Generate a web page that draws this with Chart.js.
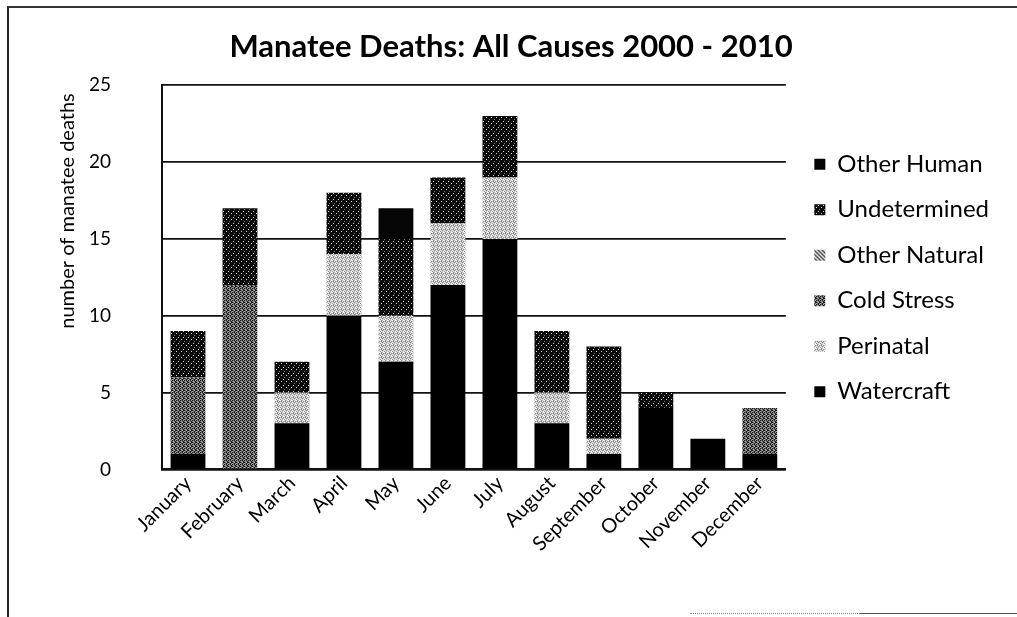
<!DOCTYPE html>
<html>
<head>
<meta charset="utf-8">
<script src="https://cdn.jsdelivr.net/npm/chart.js@4.4.1/dist/chart.umd.min.js"></script>
<style>
  html, body { margin: 0; padding: 0; background: #fff; }
  #wrap { position: relative; width: 1017px; height: 617px; overflow: hidden; }
  #frame { position: absolute; left: 7px; top: 6px; width: 1020px; height: 620px;
           border-left: 2px solid #222; border-top: 2px solid #333; box-sizing: border-box; pointer-events: none; }
  #bottomline { position: absolute; left: 690px; top: 613px; width: 330px; height: 0;
           border-top: 1px dotted #888; }
  #bottomline2 { position: absolute; left: 860px; top: 613px; width: 160px; height: 0;
           border-top: 1px solid #555; }
  canvas { position: absolute; left: 0; top: 0; }
</style>
</head>
<body>
<div id="wrap">
  <canvas id="c" width="1017" height="617"></canvas>
  <div id="frame"></div>
  <div id="bottomline"></div>
  <div id="bottomline2"></div>
</div>
<script>
// ---- data ----
const months = ["January","February","March","April","May","June","July","August","September","October","November","December"];
const watercraft   = [1, 0, 3, 10, 7, 12, 15, 3, 1, 4, 2, 1];
const perinatal    = [0, 0, 2, 4, 3, 4, 4, 2, 1, 0, 0, 0];
const coldStress   = [5, 12, 0, 0, 0, 0, 0, 0, 0, 0, 0, 3];
const otherNatural = [0, 0, 0, 0, 0, 0, 0, 0, 0, 0, 0, 0];
const undetermined = [3, 5, 2, 4, 5, 3, 4, 4, 6, 1, 0, 0];
const otherHuman   = [0, 0, 0, 0, 2, 0, 0, 0, 0, 0, 0, 0];
const yTicks = [0, 5, 10, 15, 20, 25];

// ---- dither patterns to mimic the scanned greyscale fills ----
function makePattern(rows, colors) {
  const h = rows.length, w = rows[0].length;
  const cv = document.createElement('canvas');
  cv.width = w; cv.height = h;
  const cx = cv.getContext('2d');
  for (let y = 0; y < h; y++) {
    for (let x = 0; x < w; x++) {
      cx.fillStyle = colors[rows[y][x]];
      cx.fillRect(x, y, 1, 1);
    }
  }
  return cx.createPattern(cv, 'repeat');
}
const patPerinatal = makePattern([
  "0120","2101","0212","1020"
], {"0":"#f0f0f0","1":"#8a8a8a","2":"#c0c0c0"});
const patCold = makePattern([
  "0102","1210","0120","2101"
], {"0":"#1a1a1a","1":"#6e6e6e","2":"#a8a8a8"});
const patOtherNat = makePattern([
  "0121","1012","2101","1210"
], {"0":"#555","1":"#999","2":"#ddd"});
const patUndet = makePattern([
  "00000","00010","00000","01000","00000","00002"
], {"0":"#0a0a0a","1":"#d8d8d8","2":"#777"});

const FONT = "Lato, 'Open Sans', sans-serif";

const yTitlePlugin = {
  id: 'yTitle',
  afterLayout(chart) {
    // nudge the legend block to sit where the original places it
    const lg = chart.legend;
    if (lg) { lg.left += 7; lg.right += 7; lg.top -= 1; lg.bottom -= 1; }
  },
  afterDraw(chart) {
    const ctx = chart.ctx;
    ctx.save();
    ctx.translate(68, 211);
    ctx.rotate(-Math.PI / 2);
    ctx.font = "20px " + FONT;
    ctx.fillStyle = "#000";
    ctx.textAlign = "center";
    ctx.textBaseline = "middle";
    ctx.fillText("number of manatee deaths", 0, 0);
    ctx.restore();
  }
};

const mk = (label, data, bg) => ({
  label, data, backgroundColor: bg, borderWidth: 0,
  categoryPercentage: 1.0, barPercentage: 0.67
});

new Chart(document.getElementById('c'), {
  type: 'bar',
  data: {
    labels: months,
    datasets: [
      mk("Watercraft", watercraft, "#000"),
      mk("Perinatal", perinatal, patPerinatal),
      mk("Cold Stress", coldStress, patCold),
      mk("Other Natural", otherNatural, patOtherNat),
      mk("Undetermined", undetermined, patUndet),
      mk("Other Human", otherHuman, "#050505")
    ]
  },
  options: {
    responsive: false,
    animation: false,
    devicePixelRatio: 1,
    layout: { padding: { left: 30, right: 25, top: 0, bottom: 59 } },
    plugins: {
      title: {
        display: true,
        text: "Manatee Deaths: All Causes 2000 - 2010",
        color: "#000",
        font: { family: FONT, size: 31, weight: "bold" },
        padding: { top: 28, bottom: 20 }
      },
      legend: {
        display: true,
        position: 'right',
        reverse: true,
        labels: {
          color: "#000",
          font: { family: FONT, size: 24 },
          boxWidth: 11, boxHeight: 11,
          padding: 21.5
        }
      },
      tooltip: { enabled: false }
    },
    scales: {
      x: {
        stacked: true,
        grid: { display: false, drawTicks: false },
        border: { display: true, color: "#111", width: 2 },
        ticks: {
          color: "#000",
          font: { family: FONT, size: 20 },
          maxRotation: 45, minRotation: 45,
          padding: 2
        }
      },
      y: {
        stacked: true,
        min: 0, max: 25,
        afterBuildTicks(axis) { axis.ticks = yTicks.map(v => ({ value: v })); },
        afterFit(axis) { axis.width = 132; },
        grid: { color: "#111", lineWidth: 1.8, drawTicks: false },
        border: { display: true, color: "#111", width: 2 },
        ticks: {
          color: "#000",
          font: { family: FONT, size: 19 },
          padding: 51
        }
      }
    }
  },
  plugins: [yTitlePlugin]
});
</script>
</body>
</html>
